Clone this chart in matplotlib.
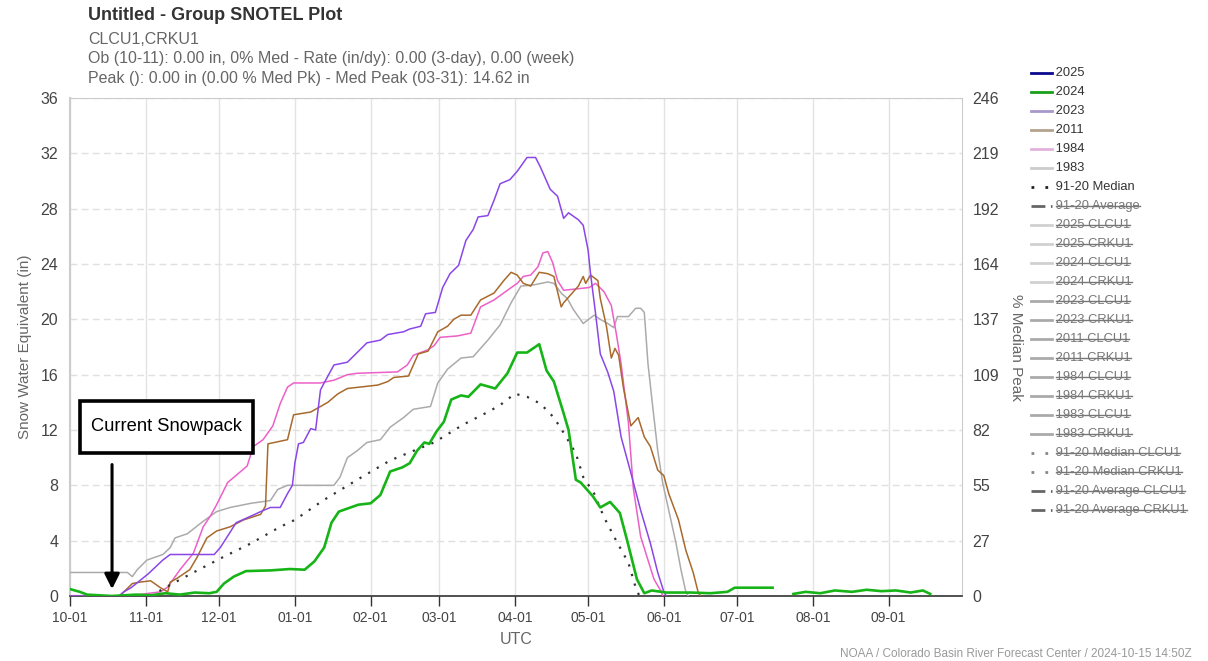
import numpy as np
import matplotlib
matplotlib.use("Agg")
import matplotlib.pyplot as plt
from matplotlib.lines import Line2D
from matplotlib.patches import Rectangle

plt.rcParams['font.family'] = ['Liberation Sans', 'DejaVu Sans']

# day of water year (0 = Oct 1) and SWE in inches
nan = np.nan
days_2024 = [0, 4, 7, 12, 17, 27, 33, 39, 45, 51, 57, 60, 63, 67, 72, 82, 90, 96, 100, 104, 107, 110,
             118, 123, 127, 131, 136, 139, 142, 145, 147, 150, 153, 156, 160, 163, 168, 174, 179, 183,
             187, 192, 195, 198, 202, 204, 207, 209, 214, 217, 221, 225, 228, 232, 235, 238, 244, 254,
             262, 269, 272, 281, 287.5, 288, 296, 301, 307, 313, 320, 326, 332, 338, 344, 349, 352]
swe_2024 = [0.5, 0.3, 0.1, 0.05, 0.0, 0.1, 0.05, 0.2, 0.1, 0.25, 0.2, 0.3, 0.9, 1.4, 1.8, 1.85, 1.95,
            1.9, 2.5, 3.5, 5.3, 6.1, 6.6, 6.7, 7.3, 9.0, 9.3, 9.6, 10.5, 11.1, 11.0, 11.9, 12.6, 14.2,
            14.5, 14.4, 15.3, 15.0, 16.1, 17.6, 17.6, 18.2, 16.3, 15.5, 13.2, 12.0, 8.4, 8.2, 7.2, 6.4,
            6.8, 6.0, 4.0, 1.2, 0.2, 0.4, 0.25, 0.25, 0.2, 0.3, 0.6, 0.6, 0.6, nan, 0.15, 0.3, 0.2,
            0.4, 0.3, 0.45, 0.35, 0.4, 0.25, 0.4, 0.15]

days_2023 = [0, 20, 22, 25, 32, 38, 41, 59, 61.5, 68, 75, 78, 82, 86, 89, 91, 92, 93.5, 95.5, 98.5,
             100.5, 102.5, 104, 108, 113.5, 117.5, 121.5, 127, 130, 136.5, 139, 143.5, 145.5, 149.5,
             152.5, 155.5, 159, 162, 165, 167, 171, 173.5, 176, 180, 183, 187, 190.5, 192.5, 196.5,
             199.5, 202, 204, 208, 210, 212, 213, 215, 217, 220, 222.5, 225.5, 229.5, 233.5, 237.5,
             240.5, 243, 244]
swe_2023 = [0, 0, 0.3, 0.6, 1.6, 2.6, 3.0, 3.0, 3.5, 5.3, 5.85, 6.1, 6.4, 6.4, 7.4, 8.0, 9.6, 11.0,
            11.1, 12.1, 12.0, 14.9, 15.4, 16.7, 16.9, 17.6, 18.3, 18.5, 18.9, 19.1, 19.3, 19.5, 20.4,
            20.5, 22.3, 23.3, 23.9, 25.7, 26.5, 27.4, 27.5, 28.6, 29.8, 30.1, 30.7, 31.7, 31.7, 31.0,
            29.4, 28.9, 27.3, 27.7, 27.2, 26.8, 25.0, 23.3, 20.5, 17.5, 16.2, 14.8, 11.5, 8.9, 6.2,
            3.8, 1.7, 0.3, 0.0]

days_2011 = [0, 20.5, 21.5, 25.5, 28.5, 33, 37, 40, 41, 44, 49, 52, 56, 60, 65.5, 71, 78, 80, 81,
             89, 91.5, 98.5, 102.5, 105.5, 109.5, 113.5, 126, 130, 132.5, 138.5, 140.5, 142.5, 146.5,
             150.5, 154.5, 157, 160, 164, 168, 173.5, 177.5, 180.5, 183, 185.5, 188.5, 192, 195.5, 198,
             201, 202, 205, 208, 210, 211, 213, 216, 217, 219.5, 221.5, 223, 224.5, 226.5, 229.5,
             232.5, 235, 237.5, 240.5, 243, 245, 249, 252, 255, 257, 258]
swe_2011 = [0, 0, 0.2, 0.9, 1.0, 1.1, 0.6, 0.3, 1.0, 1.3, 1.9, 2.8, 4.2, 4.7, 5.0, 5.5, 5.9, 6.5,
            11.0, 11.3, 13.1, 13.3, 13.7, 14.0, 14.6, 15.0, 15.25, 15.5, 15.8, 15.9, 16.7, 17.5, 17.7,
            19.1, 19.5, 20.0, 20.3, 20.3, 21.4, 21.9, 22.8, 23.4, 23.2, 22.6, 22.4, 23.4, 23.3, 23.1,
            20.9, 21.2, 21.8, 22.4, 23.1, 22.6, 23.2, 22.8, 21.5, 19.5, 17.2, 17.9, 17.4, 15.0, 12.3,
            12.9, 11.5, 10.8, 9.1, 8.7, 7.4, 5.5, 3.3, 1.7, 0.3, 0]

days_1984 = [0, 23.5, 37, 40, 45, 50.5, 54.5, 57.5, 60, 64.5, 68.5, 72.5, 75, 79, 83, 86, 89, 91.5,
             102.5, 108, 113.5, 117.5, 134, 138, 140.5, 146.5, 149, 151.5, 158.5, 164, 168, 173.5,
             179, 183, 185.5, 188.5, 191.5, 193.5, 195.5, 197.5, 199.5, 202, 212.5, 215, 218.5, 221.5,
             223.5, 225.5, 228.5, 230.5, 233.5, 236.5, 239, 242, 242.5]
swe_1984 = [0, 0, 0.3, 0.65, 1.9, 3.1, 5.0, 5.8, 6.6, 8.2, 8.8, 9.4, 10.8, 11.3, 12.3, 13.9, 15.1,
            15.4, 15.4, 15.6, 16.0, 16.1, 16.2, 16.7, 17.4, 17.8, 18.1, 18.7, 18.8, 19.0, 20.9, 21.4,
            22.1, 22.6, 23.1, 23.2, 23.8, 24.8, 24.9, 24.1, 22.8, 22.1, 22.3, 22.6, 22.0, 21.0, 19.0,
            16.8, 12.5, 7.8, 4.3, 2.6, 1.2, 0.3, 0]

days_1983 = [0, 23.5, 25.5, 27.5, 31.5, 38, 41, 43, 48, 54.5, 60, 65.5, 74, 82, 85, 89, 108, 110.5,
             113.5, 117.5, 121.5, 127, 131, 136.5, 140.5, 147.5, 150.5, 154.5, 160, 165, 171, 176,
             180.5, 184.5, 190, 195.5, 198, 201, 203.5, 206, 210, 214.5, 217, 220, 222.5, 224, 228.5,
             231.5, 233.5, 235, 236.5, 238.5, 240.5, 242.5, 245, 248, 250, 252, 253]
swe_1983 = [1.7, 1.7, 1.4, 1.9, 2.6, 3.0, 3.5, 4.2, 4.5, 5.4, 6.1, 6.4, 6.7, 6.9, 7.7, 8.0, 8.0, 8.6,
            10.0, 10.5, 11.1, 11.3, 12.2, 12.9, 13.5, 13.7, 15.4, 16.4, 17.2, 17.3, 18.5, 19.6, 21.2,
            22.4, 22.5, 22.7, 22.6, 21.9, 21.5, 20.7, 19.7, 20.3, 20.0, 19.7, 19.4, 20.2, 20.2, 20.8,
            20.8, 20.5, 16.8, 13.6, 10.5, 8.2, 6.2, 3.8, 1.9, 0.3, 0]

days_median = [33, 37, 42, 50.5, 62.5, 74, 86, 92, 103.5, 117.5, 131, 142, 149, 161, 171, 176, 182,
               187, 192.5, 198, 202, 207, 210, 214.5, 218.5, 223.5, 228.5, 231.5, 233]
swe_median = [0, 0.4, 0.9, 1.7, 2.8, 3.8, 5.0, 5.5, 6.9, 8.4, 9.8, 10.6, 11.1, 12.4, 13.3, 13.8,
              14.62, 14.4, 13.9, 12.9, 11.8, 10.3, 8.6, 7.4, 5.7, 4.0, 2.4, 0.6, 0]

days_2025 = [0, 10]
swe_2025 = [0.0, 0.0]

month_days = [0, 31, 61, 92, 123, 151, 182, 212, 243, 273, 304, 335]
month_labels = ['10-01', '11-01', '12-01', '01-01', '02-01', '03-01', '04-01', '05-01',
                '06-01', '07-01', '08-01', '09-01']
swe_ticks = [0, 4, 8, 12, 16, 20, 24, 28, 32, 36]
pct_labels = ['0', '27', '55', '82', '109', '137', '164', '192', '219', '246']

legend_main = ['2025', '2024', '2023', '2011', '1984', '1983', '91-20 Median']
legend_hidden = ['91-20 Average', '2025 CLCU1', '2025 CRKU1', '2024 CLCU1', '2024 CRKU1',
                 '2023 CLCU1', '2023 CRKU1', '2011 CLCU1', '2011 CRKU1', '1984 CLCU1', '1984 CRKU1',
                 '1983 CLCU1', '1983 CRKU1', '91-20 Median CLCU1', '91-20 Median CRKU1',
                 '91-20 Average CLCU1', '91-20 Average CRKU1']

W, H = 1208, 661
fig = plt.figure(figsize=(W / 100, H / 100), dpi=100)
ax = fig.add_axes([70 / W, 1 - 596 / H, (962 - 70) / W, (596 - 98) / H])

c_green = '#17b417'
c_purple = '#8a47e6'
c_pink = '#ec60c8'
c_brown = '#a86a2c'
c_gray = '#ababab'

ax.plot(days_1983, swe_1983, color=c_gray, lw=1.1, zorder=3)
ax.plot(days_1984, swe_1984, color=c_pink, lw=1.1, zorder=3)
ax.plot(days_2011, swe_2011, color=c_brown, lw=1.1, zorder=3)
ax.plot(days_2023, swe_2023, color=c_purple, lw=1.1, zorder=3)
ax.plot(days_median, swe_median, color='#333333', lw=1.6, ls=(0, (1, 3.5)), zorder=4)
ax.plot(days_2024, swe_2024, color=c_green, lw=1.9, zorder=5)
ax.plot(days_2025, swe_2025, color='#0a0a8c', lw=1.5, zorder=2)

ax.set_xlim(0, 365)
ax.set_ylim(0, 36)
ax.set_xticks(month_days)
ax.set_xticklabels(month_labels)
ax.set_yticks(swe_ticks)
ax.tick_params(axis='x', length=7, width=1, color='#333333', labelsize=10, labelcolor='#444444', pad=4)
ax.tick_params(axis='y', length=0, labelsize=11.5, labelcolor='#444444', pad=8.5)
ax.grid(axis='x', color='#e3e3e3', lw=1)
ax.grid(axis='y', color='#e0e0e0', lw=1, ls=(0, (5, 3)))
ax.set_axisbelow(True)
for s in ['top', 'right', 'left']:
    ax.spines[s].set_color('#cccccc')
ax.spines['left'].set_linewidth(1.5)
ax.spines['bottom'].set_color('#333333')
ax.spines['bottom'].set_linewidth(1.2)
ax.set_ylabel('Snow Water Equivalent (in)', color='#666666', fontsize=11, va='center')
ax.yaxis.set_label_coords((25 - 70) / 892, 0.5)
ax.set_xlabel('UTC', color='#666666', fontsize=11.5, labelpad=5)

ax2 = ax.twinx()
ax2.set_ylim(0, 36)
ax2.set_yticks(swe_ticks)
ax2.set_yticklabels(pct_labels)
ax2.tick_params(axis='y', length=0, labelsize=11.5, labelcolor='#444444', pad=7.5)
for s in ax2.spines.values():
    s.set_visible(False)
ax2.set_ylabel('% Median Peak', color='#666666', fontsize=11, rotation=270, va='center')
ax2.yaxis.set_label_coords((1016 - 70) / 892, 0.5)

# annotation box and arrow
ax.add_patch(Rectangle((4.1, 10.34), 70.9, 3.76, fc='white', ec='black', lw=2.6, zorder=10))
ax.text(39.5, 12.25, 'Current Snowpack', fontsize=13.2, color='black', ha='center', va='center',
        zorder=11)
ax.annotate('', xy=(17.2, 0.3), xytext=(17.2, 9.7),
            arrowprops=dict(arrowstyle='-|>,head_width=0.45,head_length=0.9', color='black', lw=2.2),
            zorder=10)

# titles
fig.text(88 / W, 1 - 16 / H, 'Untitled - Group SNOTEL Plot', fontsize=13, fontweight='bold',
         color='#333333', va='center')
fig.text(88 / W, 1 - 39 / H, 'CLCU1,CRKU1', fontsize=11.5, color='#666666', va='center')
fig.text(88 / W, 1 - 58.5 / H, 'Ob (10-11): 0.00 in, 0% Med - Rate (in/dy): 0.00 (3-day), 0.00 (week)',
         fontsize=11.5, color='#666666', va='center')
fig.text(88 / W, 1 - 78 / H, 'Peak (): 0.00 in (0.00 % Med Pk) - Med Peak (03-31): 14.62 in',
         fontsize=11.5, color='#666666', va='center')
fig.text(1192 / W, 1 - 654 / H, 'NOAA / Colorado Basin River Forecast Center / 2024-10-15 14:50Z',
         fontsize=8.5, color='#999999', ha='right', va='center')

# legend built by hand
main_styles = [('#0a0a8c', '-'), ('#1aa01a', '-'), ('#a898cc', '-'), ('#b4a28e', '-'),
               ('#e2b2da', '-'), ('#cccccc', '-'), ('#222222', (0, (1, 4)))]
hid_colors = ['#666666'] + ['#d0d0d0'] * 4 + ['#aaaaaa'] * 8 + ['#888888'] * 2 + ['#666666'] * 2
hid_styles = [(0, (5, 2, 1, 2))] + ['-'] * 12 + [(0, (1, 4))] * 2 + [(0, (5, 2, 1, 2))] * 2
y0, dy = 73, 19.0
xh0, xh1, xt = 1031 / W, 1052 / W, 1052 / W
struck = []
for i, lab in enumerate(legend_main + legend_hidden):
    yy = 1 - (y0 + i * dy) / H
    if i < len(legend_main):
        col, ls = main_styles[i]
        tcol = '#333333'
    else:
        col, ls = hid_colors[i - len(legend_main)], hid_styles[i - len(legend_main)]
        tcol = '#777777'
    fig.add_artist(Line2D([xh0, xh1], [yy, yy], color=col, ls=ls, lw=2, transform=fig.transFigure))
    t = fig.text(xt, yy, ' ' + lab, fontsize=9.3, color=tcol, va='center')
    if i >= len(legend_main):
        struck.append((t, yy))

fig.canvas.draw()
r = fig.canvas.get_renderer()
for t, yy in struck:
    bb = t.get_window_extent(renderer=r)
    x_a = (bb.x0 + 4) / W
    x_b = bb.x1 / W
    fig.add_artist(Line2D([x_a, x_b], [yy, yy], color='#777777', lw=1, transform=fig.transFigure))

fig.savefig('out.png', dpi=100)
